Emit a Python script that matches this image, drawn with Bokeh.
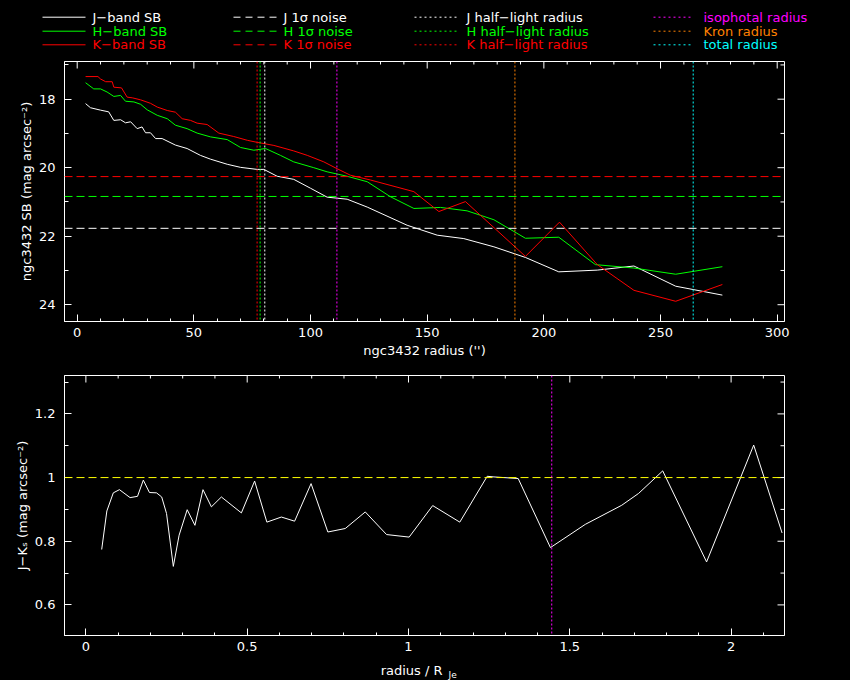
import math
from bokeh.plotting import figure
from bokeh.models import Range1d, SingleIntervalTicker, Span, NumeralTickFormatter
from bokeh.embed import file_html
from bokeh.resources import INLINE
from bokeh.core.properties import value

# ---------------- data ----------------
J_r = [3.6, 5.7, 10.0, 13.5, 15.7, 18.6, 20.7, 22.9, 25.7, 27.8, 29.3, 31.4, 33.6, 36.4, 42.1, 47.1,
       52.8, 57.1, 64.3, 70.0, 77.1, 80.0, 85.7, 92.8, 100.0, 107.1, 115.7, 124.3, 141.4, 154.3,
       165.7, 178.6, 192.1, 206.4, 222.9, 238.6, 256.5, 276.5]
J_sb = [18.13, 18.25, 18.32, 18.37, 18.62, 18.60, 18.69, 18.66, 18.86, 18.81, 18.98, 18.98, 19.15,
        19.15, 19.34, 19.44, 19.64, 19.75, 19.90, 19.99, 20.05, 20.05, 20.25, 20.34, 20.60, 20.86,
        20.92, 21.15, 21.68, 21.97, 22.07, 22.31, 22.62, 23.04, 22.99, 22.87, 23.46, 23.72]

H_r = [3.6, 7.1, 10.0, 12.8, 15.7, 18.6, 20.7, 24.3, 27.2, 30.0, 34.3, 38.6, 42.1, 47.1, 51.4, 57.1,
       64.3, 70.0, 75.7, 80.7, 87.1, 92.8, 101.4, 107.1, 115.7, 124.3, 134.3, 144.3, 155.7, 167.1,
       178.6, 192.1, 206.4, 222.1, 238.6, 256.5, 276.5]
H_sb = [17.52, 17.70, 17.70, 17.79, 17.92, 17.89, 18.06, 18.08, 18.15, 18.31, 18.47, 18.57, 18.76,
        18.86, 18.99, 19.10, 19.18, 19.41, 19.49, 19.44, 19.64, 19.83, 20.00, 20.12, 20.25, 20.41,
        20.85, 21.19, 21.16, 21.26, 21.52, 22.06, 22.03, 22.83, 22.93, 23.11, 22.89]

K_r = [3.6, 8.9, 10.0, 12.2, 15.0, 15.7, 19.0, 21.4, 23.6, 27.2, 31.4, 34.3, 38.6, 42.1, 45.0, 48.6,
       51.4, 55.7, 60.7, 67.1, 72.9, 77.1, 84.3, 92.8, 98.6, 105.7, 111.4, 117.1, 125.7, 144.3,
       155.0, 166.4, 192.1, 206.7, 222.9, 238.6, 256.5, 276.5]
K_sb = [17.34, 17.34, 17.41, 17.49, 17.49, 17.65, 17.67, 17.94, 17.96, 18.02, 18.12, 18.23, 18.33,
        18.38, 18.57, 18.62, 18.70, 18.74, 18.99, 19.09, 19.20, 19.26, 19.35, 19.51, 19.64, 19.83,
        20.03, 20.22, 20.36, 20.70, 21.28, 20.99, 22.59, 21.59, 22.83, 23.58, 23.90, 23.41]

noise_J = 21.77
noise_H = 20.84
noise_K = 20.26

r_half_J = 80.4
r_half_H = 78.4
r_half_K = 77.1
r_iso = 111.3
r_kron = 187.6
r_total = 264.0

JK_x = [0.049, 0.065, 0.085, 0.104, 0.137, 0.160, 0.178, 0.197, 0.219, 0.235, 0.250, 0.271, 0.289,
        0.314, 0.338, 0.363, 0.389, 0.420, 0.482, 0.523, 0.561, 0.606, 0.647, 0.698, 0.750, 0.804,
        0.866, 0.932, 1.002, 1.075, 1.159, 1.244, 1.265, 1.340, 1.440, 1.548, 1.661, 1.713, 1.788,
        1.924, 2.070, 2.158]
JK_val = [0.774, 0.895, 0.952, 0.962, 0.937, 0.941, 0.992, 0.953, 0.952, 0.939, 0.887, 0.721, 0.819,
          0.899, 0.850, 0.962, 0.908, 0.939, 0.889, 0.989, 0.860, 0.876, 0.863, 0.981, 0.829, 0.840,
          0.892, 0.821, 0.813, 0.912, 0.860, 1.004, 1.002, 0.997, 0.780, 0.853, 0.913, 0.950, 1.021,
          0.735, 1.102, 0.826]
JK_ref = 1.0
iso_rel = 1.444

legend_solid = ["J\u2212band SB", "H\u2212band SB", "K\u2212band SB"]
legend_dashed = ["J 1\u03c3 noise", "H 1\u03c3 noise", "K 1\u03c3 noise"]
legend_half = ["J half\u2212light radius", "H half\u2212light radius", "K half\u2212light radius"]
legend_radii = ["isophotal radius", "Kron radius", "total radius"]

# ---------------- styles ----------------
FONT = "DejaVu Sans"
FS = "13px"
WHITE, GREEN, RED = "#ffffff", "#00ff00", "#ff0000"
MAGENTA, ORANGE, CYAN, YELLOW = "#ff00ff", "#ff8000", "#00ffff", "#ffff00"
BAND_COLORS = [WHITE, GREEN, RED]
RADII_COLORS = [MAGENTA, ORANGE, CYAN]
DOT = "2 2"
DASH = "8 4"

W = 850
FW, FH = 720, 260      # frame size in pixels
MAJ, MINX, MINY = 7, 3, 4   # tick lengths in pixels


def style_axis(ax, interval, minor, minor_len, standoff):
    ax.ticker = SingleIntervalTicker(interval=interval, num_minor_ticks=minor)
    ax.axis_line_color = WHITE
    ax.major_tick_line_color = WHITE
    ax.minor_tick_line_color = WHITE
    ax.major_tick_in = MAJ
    ax.major_tick_out = 0
    ax.minor_tick_in = minor_len
    ax.minor_tick_out = 0
    ax.major_label_text_color = WHITE
    ax.major_label_text_font = FONT
    ax.major_label_text_font_size = FS
    ax.major_label_standoff = standoff
    ax.axis_label_text_color = WHITE
    ax.axis_label_text_font = FONT
    ax.axis_label_text_font_size = FS
    ax.axis_label_text_font_style = "normal"


def box_ticks(p, xr, yr, x_major, x_nminor, y_major, y_nminor):
    """Tick marks on the top and right edges of the frame (mirror of bottom/left axes)."""
    def positions(lo, hi, step):
        a, b = min(lo, hi), max(lo, hi)
        k0, k1 = math.ceil(a / step - 1e-9), math.floor(b / step + 1e-9)
        return [round(k * step, 10) for k in range(k0, k1 + 1)]
    dy = (yr.start - yr.end) / FH   # data units per pixel, going down from the top edge
    dx = (xr.end - xr.start) / FW   # data units per pixel, going left from the right edge
    x0s, y0s, x1s, y1s = [], [], [], []
    xmaj = positions(xr.start, xr.end, x_major)
    for x in positions(xr.start, xr.end, x_major / x_nminor):
        L = MAJ if any(abs(x - m) < 1e-9 for m in xmaj) else MINX
        x0s.append(x); x1s.append(x); y0s.append(yr.end); y1s.append(yr.end + L * dy)
    ymaj = positions(yr.start, yr.end, y_major)
    for y in positions(yr.start, yr.end, y_major / y_nminor):
        L = MAJ if any(abs(y - m) < 1e-9 for m in ymaj) else MINY
        x0s.append(xr.end); x1s.append(xr.end - L * dx); y0s.append(y); y1s.append(y)
    p.segment(x0=x0s, y0=y0s, x1=x1s, y1=y1s, line_color=WHITE, line_width=1)


def base_fig(height, xr, yr, top, bottom):
    p = figure(width=W, height=height, x_range=xr, y_range=yr, output_backend="svg",
               toolbar_location=None, min_border_left=64, min_border_right=66,
               min_border_top=top, min_border_bottom=bottom,
               background_fill_color="black", border_fill_color="black")
    p.outline_line_color = WHITE
    p.grid.visible = False
    return p


def strip(height):
    s = figure(width=W, height=height, x_range=Range1d(0, W), y_range=Range1d(height, 0),
               x_axis_type=None, y_axis_type=None, output_backend="svg", toolbar_location=None,
               min_border=0, background_fill_color="black", border_fill_color="black")
    s.outline_line_color = None
    return s


# ---------------- legend strip (screen-like coordinates, y downwards) ----------------
p0 = strip(61)
rows_y = [16.7, 30.7, 44.3]
cols = [(42, 85, 92), (233, 277, 283), (414, 457, 466), (653, 693, 703)]
col_items = [(legend_solid, BAND_COLORS, None), (legend_dashed, BAND_COLORS, "7 5"),
             (legend_half, BAND_COLORS, "2 3"), (legend_radii, RADII_COLORS, "2 3")]
for (x0, x1, xt), (labels, colors, dash) in zip(cols, col_items):
    kw = {} if dash is None else {"line_dash": dash}
    p0.segment(x0=[x0] * 3, y0=rows_y, x1=[x1] * 3, y1=rows_y, line_color=colors, line_width=1, **kw)
    p0.text(x=[xt] * 3, y=rows_y, text=labels, text_color=colors, text_font=value(FONT),
            text_font_size=FS, text_baseline="middle", text_align="left")

# ---------------- top panel ----------------
xr1, yr1 = Range1d(-5.44, 303.13), Range1d(24.49, 16.90)
p1 = base_fig(300, xr1, yr1, 0, 40)
style_axis(p1.xaxis[0], 50, 5, MINX, 6)
style_axis(p1.yaxis[0], 2, 2, MINY, 9)
p1.xaxis[0].axis_label = "ngc3432 radius ('')"
p1.xaxis[0].axis_label_standoff = 3
p1.yaxis[0].axis_label = "ngc3432 SB (mag arcsec\u207b\u00b2)"
p1.yaxis[0].axis_label_standoff = 2
box_ticks(p1, xr1, yr1, 50, 5, 2, 2)

for rr, sb, c in [(J_r, J_sb, WHITE), (H_r, H_sb, GREEN), (K_r, K_sb, RED)]:
    p1.line(rr, sb, line_color=c, line_width=1)
for lvl, c in [(noise_K, RED), (noise_H, GREEN), (noise_J, WHITE)]:
    p1.add_layout(Span(location=lvl, dimension="width", line_color=c, line_width=1, line_dash=DASH))
for loc, c in [(r_half_K, RED), (r_half_H, GREEN), (r_half_J, WHITE),
               (r_iso, MAGENTA), (r_kron, ORANGE), (r_total, CYAN)]:
    p1.add_layout(Span(location=loc, dimension="height", line_color=c, line_width=1, line_dash=DOT))

# ---------------- bottom panel ----------------
xr2, yr2 = Range1d(-0.0663, 2.1655), Range1d(0.5039, 1.3206)
p2 = base_fig(296, xr2, yr2, 14, 22)
style_axis(p2.xaxis[0], 0.5, 5, MINX, 6)
style_axis(p2.yaxis[0], 0.2, 2, MINY, 9)
p2.xaxis[0].formatter = NumeralTickFormatter(format="0.[0]")
p2.yaxis[0].formatter = NumeralTickFormatter(format="0.[0]")
p2.yaxis[0].axis_label = "J\u2212K\u209b (mag arcsec\u207b\u00b2)"
p2.yaxis[0].axis_label_standoff = 2
box_ticks(p2, xr2, yr2, 0.5, 5, 0.2, 2)

p2.line(JK_x, JK_val, line_color=WHITE, line_width=1)
p2.add_layout(Span(location=JK_ref, dimension="width", line_color=YELLOW, line_width=1, line_dash=DASH))
p2.add_layout(Span(location=iso_rel, dimension="height", line_color=MAGENTA, line_width=1, line_dash=DOT))

# x-axis label of bottom panel: radius / R_Je
p3 = strip(23)
txt2 = dict(text_color=WHITE, text_font=value(FONT), text_baseline="alphabetic")
p3.text(x=[442], y=[13], text=["radius / R"], text_align="right", text_font_size=FS, **txt2)
p3.text(x=[448], y=[17], text=["Je"], text_align="left", text_font_size="9px", **txt2)

TEMPLATE = "{% block preamble %}<style>html, body { background: #000000; }</style>{% endblock %}"
open("out.html", "w").write(file_html([p0, p1, p2, p3], INLINE, template=TEMPLATE))
